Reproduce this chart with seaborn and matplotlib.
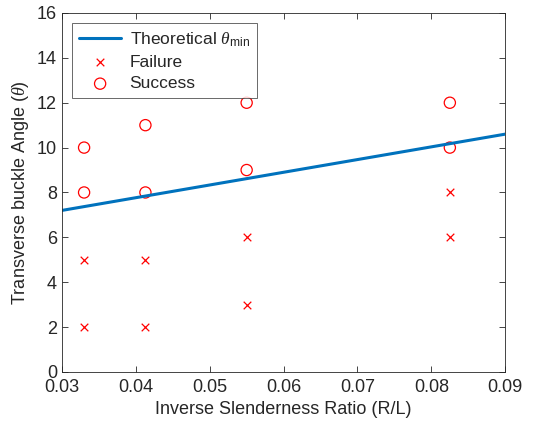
import numpy as np
import pandas as pd
import matplotlib
matplotlib.use('Agg')
import matplotlib.pyplot as plt
import seaborn as sns

# data
theory_x = [0.03, 0.09]
theory_y = [7.2, 10.6]

fail_x = [0.033, 0.033, 0.0413, 0.0413, 0.055, 0.055, 0.0825, 0.0825]
fail_y = [2, 5, 2, 5, 3, 6, 6, 8]

succ_x = [0.033, 0.033, 0.0413, 0.0413, 0.055, 0.055, 0.0825, 0.0825]
succ_y = [8, 10, 8, 11, 9, 12, 10, 12]

sns.set_style('ticks')
plt.rcParams['font.family'] = ['Liberation Sans', 'DejaVu Sans']
plt.rcParams['mathtext.fontset'] = 'custom'
plt.rcParams['mathtext.rm'] = 'Liberation Sans'
plt.rcParams['mathtext.it'] = 'Liberation Serif:italic'

fig = plt.figure(figsize=(5.48, 4.33), dpi=100)
ax = fig.add_axes([0.113, 0.141, 0.809, 0.829])

df_t = pd.DataFrame({'x': theory_x, 'y': theory_y})
df_f = pd.DataFrame({'x': fail_x, 'y': fail_y})
df_s = pd.DataFrame({'x': succ_x, 'y': succ_y})

sns.lineplot(data=df_t, x='x', y='y', ax=ax, color='#0072BD', linewidth=2.2,
             label=r'Theoretical $\theta_{\mathrm{min}}$')
sns.scatterplot(data=df_f, x='x', y='y', ax=ax, marker='x', color='red',
                s=30, linewidth=0.9, label='Failure')
sns.scatterplot(data=df_s, x='x', y='y', ax=ax, marker='o', facecolor='none',
                edgecolor='red', s=65, linewidth=0.9, label='Success')

ax.set_xlim(0.03, 0.09)
ax.set_ylim(0, 16)
ax.set_xticks(np.arange(0.03, 0.0901, 0.01))
ax.set_xticklabels(['0.03', '0.04', '0.05', '0.06', '0.07', '0.08', '0.09'])
ax.set_yticks(range(0, 17, 2))
ax.tick_params(direction='in', top=True, right=True, labelsize=13,
               length=4, width=0.6, color='#262626', labelcolor='#262626')
ax.tick_params(axis='x', pad=5)
for s in ax.spines.values():
    s.set_linewidth(0.6)
    s.set_color('#262626')
    s.set_visible(True)

ax.set_xlabel('Inverse Slenderness Ratio (R/L)', fontsize=13, color='#262626')
ax.set_ylabel(r'Transverse buckle Angle ($\theta$)', fontsize=13, color='#262626')

leg = ax.legend(loc='upper left', fontsize=12.5, frameon=True, fancybox=False,
                edgecolor='#262626', handlelength=2.4, borderpad=0.4,
                labelspacing=0.35, handletextpad=0.5, borderaxespad=0.6)
leg.get_frame().set_linewidth(0.6)

fig.savefig('out.png', dpi=100)
